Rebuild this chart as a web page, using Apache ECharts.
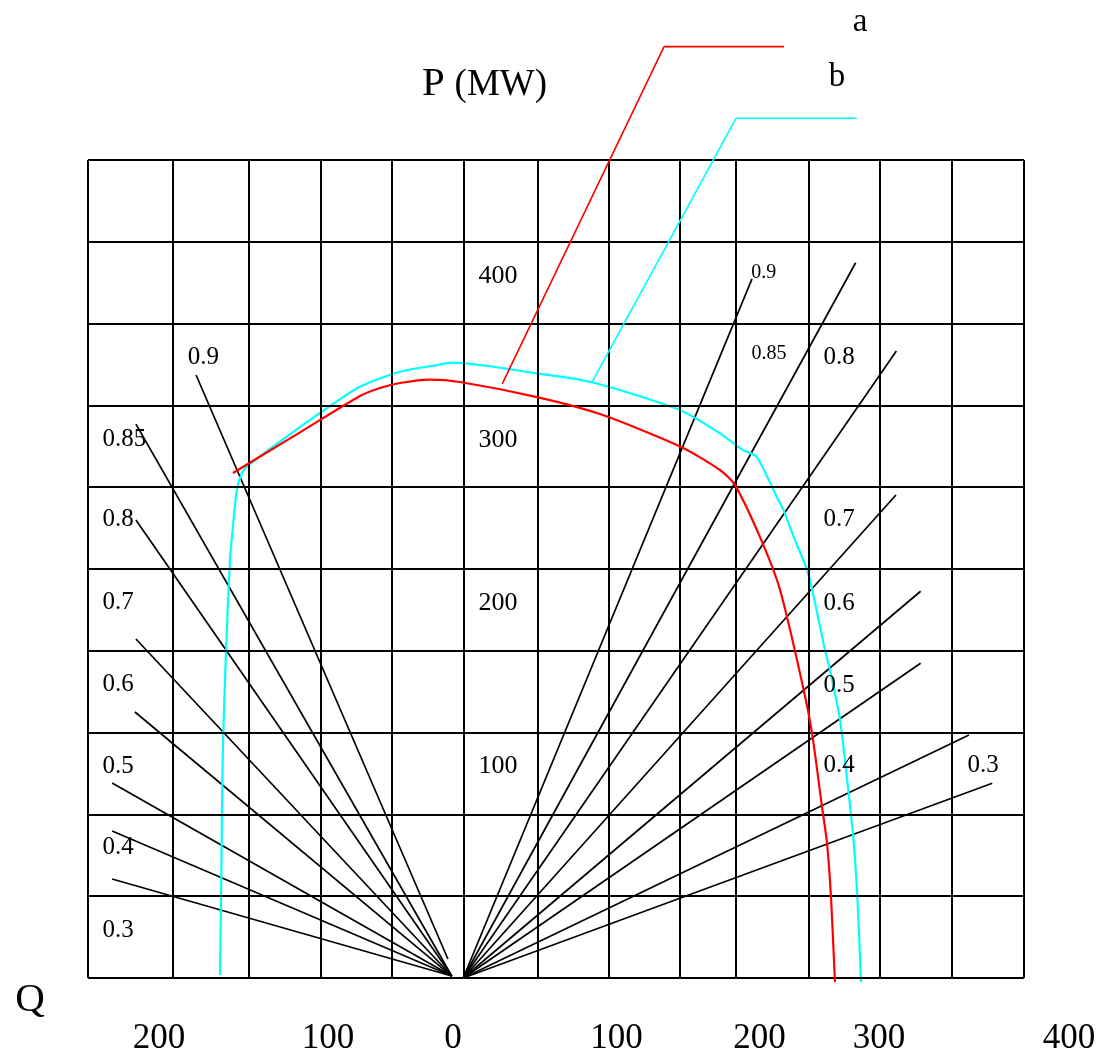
<!DOCTYPE html>
<html><head><meta charset="utf-8">
<script src="https://cdn.jsdelivr.net/npm/echarts@6.0.0/dist/echarts.min.js"></script>
<style>html,body{margin:0;padding:0;background:#fff}#c{width:1109px;height:1053px}</style>
</head><body><div id="c"></div>
<script>
// Grid line positions (Q in MVAr, P in MW)
const gridQ = [-260, -200, -147, -96, -46, 5, 57, 107, 157, 197, 248, 298, 349, 400];
const gridP = [0, 50, 100, 150, 200, 250, 300, 350, 400, 450, 500];

// Curve a (red) and curve b (cyan): [Q, P]
const curveA = [[-157.8,308.7],[-110.5,333.5],[-68.2,355.7],[-54.1,360.6],[-40,363.7],[-18.8,365.8],[2.3,364.3],[56.6,355.1],[101,344.7],[158.2,324.6],[185.6,310.5],[196.2,301.3],[213.8,269.6],[228,237.2],[244.2,177.9],[250.5,149.8],[257.6,104.5],[261.1,82.5],[263.9,49.5],[266.7,-2.4]];
const curveB = [[-166.9,1.8],[-166.2,47.7],[-165.3,119.2],[-164.6,149.8],[-162.7,199.4],[-159.9,255.5],[-158.0,273.8],[-155.1,298.3],[-151.6,308.5],[-148.1,312.5],[-119.9,330.9],[-91.7,348.2],[-68.2,361.4],[-40,370.6],[-15,374.5],[-3.3,376.1],[56.6,369.6],[94.7,364.3],[157.4,347.2],[185.6,332.9],[201.9,322.7],[211.5,318.6],[225.6,294.2],[230.3,286.1],[238.5,267.7],[244.4,255.5],[249.1,243.3],[259.7,200.5],[263.2,188.3],[270.3,157.7],[276.1,114.9],[279.6,86.4],[282.5,49.7],[285.1,-2.4]];

// Leader lines to the "a" / "b" tags
const leaderA = [[32.1,363.1],[146.2,569.3],[230.8,569.3]];
const leaderB = [[95.2,363.9],[196.9,525.5],[282,525.5]];

// Power-factor rays
const pfLabels = ['0.9','0.85','0.8','0.7','0.6','0.5','0.4','0.3'];
const fanLeftStart = [[-6.2,11.6],[-3.5,1.2],[-3.5,1.2],[-3.5,1.2],[-3.5,1.2],[-3.5,1.2],[-3.5,1.2],[-3.5,1.2]];
const fanLeftEnd = [[-183.8,368.6],[-226.2,338.6],[-226.2,280],[-226.2,207.2],[-226.9,162.6],[-243,119.2],[-243,89.9],[-243,60.5]];
const fanRightStart = [4.6, 0];
const fanRightEnd = [[208.2,427.3],[281.3,437.2],[310,383.3],[309.7,295.2],[327.1,236.4],[327.1,192.4],[361.2,148.5],[377.6,119.0]];

// Label anchors
const fanLeftLabelPos = [[-178.6,379.6],[-234.3,329.5],[-238.8,280.0],[-238.8,229.8],[-238.8,179.4],[-238.8,129.6],[-238.8,79.8],[-238.8,29.0]];
const fanRightLabelPos = [[216.5,431.1],[220.2,381.4],[269.6,379.3],[269.6,280.0],[269.6,229.2],[269.6,179.1],[269.6,130.2],[371.1,130.2]];
const pTickLabels = ['400','300','200','100'];
const pTickPos = [[29.1,429.1],[29.1,328.9],[29.1,229.2],[29.1,129.6]];
const qTickLabels = ['200','100','0','100','200','300','400'];
const qTickPosQ = [-209.9,-90.8,-2.6,112.7,213.5,297.8,431.7];
const qTickP = -37;

const FONT = "'Liberation Serif','Times New Roman',serif";

function labelSeries(items, fontSize, align) {
  return {
    type: 'scatter', silent: true, clip: false, z: 10, animation: false,
    symbolSize: 1, itemStyle: { color: 'rgba(0,0,0,0)' },
    data: items.map(it => ({ value: [it[0], it[1]], name: it[2] })),
    label: { show: true, position: 'inside', formatter: '{b}', color: '#000', opacity: 1,
      textBorderWidth: 0, fontSize: fontSize, fontFamily: FONT, align: align || 'center', verticalAlign: 'middle' },
    emphasis: { disabled: true }
  };
}
function lineSeries(data, color, width, z) {
  return { type: 'line', data: data, symbol: 'none', showSymbol: false, clip: false, silent: true,
    animation: false, z: z, lineStyle: { color: color, width: width }, emphasis: { disabled: true } };
}

const series = [];
series.push({
  type: 'line', data: [], silent: true, z: 1,
  markLine: {
    silent: true, animation: false, symbol: ['none','none'], label: { show: false },
    lineStyle: { color: '#000', width: 2, type: 'solid' },
    emphasis: { disabled: true },
    data: gridQ.map(q => ({ xAxis: q })).concat(gridP.map(p => ({ yAxis: p })))
  }
});
fanLeftEnd.forEach((e, i) => series.push(lineSeries([fanLeftStart[i], e], '#000', 1.7, 3)));
fanRightEnd.forEach(e => series.push(lineSeries([fanRightStart, e], '#000', 1.7, 3)));
series.push(Object.assign(lineSeries(curveA, '#ff0000', 2.2, 5), { smooth: 0.25 }));
series.push(Object.assign(lineSeries(curveB, '#00ffff', 2.2, 4), { smooth: 0.25 }));
series.push(lineSeries(leaderA, '#ff0000', 1.6, 5));
series.push(lineSeries(leaderB, '#00ffff', 1.6, 5));

// labels
series.push(labelSeries(pTickPos.map((p, i) => [p[0], p[1], pTickLabels[i]]), 26));
series.push(labelSeries(fanLeftLabelPos.map((p, i) => [p[0], p[1], pfLabels[i]]), 25));
series.push(labelSeries(fanRightLabelPos.slice(0, 2).map((p, i) => [p[0], p[1], pfLabels[i]]), 20));
series.push(labelSeries(fanRightLabelPos.slice(2).map((p, i) => [p[0], p[1], pfLabels[i + 2]]), 25));
series.push(labelSeries(qTickPosQ.map((q, i) => [q, qTickP, qTickLabels[i]]), 35));
series.push(labelSeries([[-300.9, -13.4, 'Q']], 41));
series.push(labelSeries([[-16.5, 546.5, 'P']], 41));
series.push(labelSeries([[-1.5, 545.5, '(MW)']], 37, 'left'));
series.push(labelSeries([[284.4, 584.1, 'a'], [268.1, 550.4, 'b']], 33));

const chart = echarts.init(document.getElementById('c'), null, { renderer: 'canvas' });
chart.setOption({
  animation: false,
  backgroundColor: '#fff',
  grid: { left: 88, right: 85, top: 160, bottom: 75, containLabel: false, outerBoundsMode: 'none' },
  xAxis: { type: 'value', min: -260, max: 400, show: false },
  yAxis: { type: 'value', min: 0, max: 500, interval: 50, show: false },
  series: series
});
</script></body></html>
